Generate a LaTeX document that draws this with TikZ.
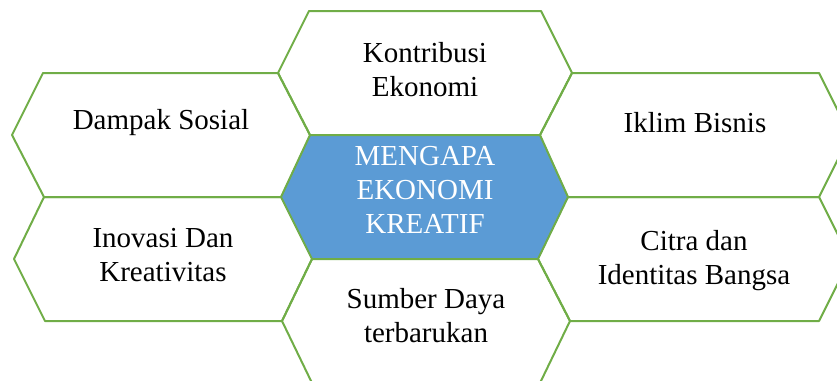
\documentclass[tikz,border=0pt]{standalone}
\usepackage{fontspec}
\setmainfont{Liberation Serif}
\usepackage{tikz}

\definecolor{hexgreen}{HTML}{70AD47}
\definecolor{hexblue}{HTML}{5B9BD5}
\definecolor{hexedge}{HTML}{41719C}

\begin{document}
\begin{tikzpicture}[x=1pt, y=-1pt, every node/.style={align=center, inner sep=0pt, font=\fontsize{29}{34}\selectfont}]
                \useasboundingbox (0,0) rectangle (837,380);
                \clip (0,0) rectangle (837,380);
                % middle cell
                \filldraw[fill=hexblue, draw=hexedge, line width=1pt] (281,197) -- (310,135) -- (540,135) -- (568,197) -- (538,259) -- (312,259) -- cycle;
                \node[text=white] (mengapa) at (425,190) {MENGAPA\\EKONOMI\\KREATIF};
                % cells round it: mid y, x of the six corners (left, top left, top right, right, bottom right, bottom left), label y
                \foreach \y/\l/\tl/\tr/\r/\br/\bl/\name/\ty/\txt in {
                    73/278/309/541/572/540/310/kontribusi/70/{Kontribusi\\Ekonomi},
                    135/12/43/278/310/281/44/dampak/123/{Dampak Sosial},
                    259/14/44/281/312/282/45/inovasi/255/{Inovasi Dan\\Kreativitas},
                    321/282/312/538/570/540/312/sumber/316/{Sumber Daya\\terbarukan},
                    135/540/572/819/850/819/568/iklim/123/{Iklim Bisnis},
                    259/538/568/819/850/819/570/citra/261/{Citra dan\\Identitas Bangsa}} {
                    \draw[hexgreen, line width=2pt, line join=round] (\l,\y) -- (\tl,\y-62) -- (\tr,\y-62) -- (\r,\y) -- (\br,\y+62) -- (\bl,\y+62) -- cycle;
                    \node (\name) at ({(\l+\r)/2},\ty) {\txt};
                }
            \end{tikzpicture}
\end{document}
